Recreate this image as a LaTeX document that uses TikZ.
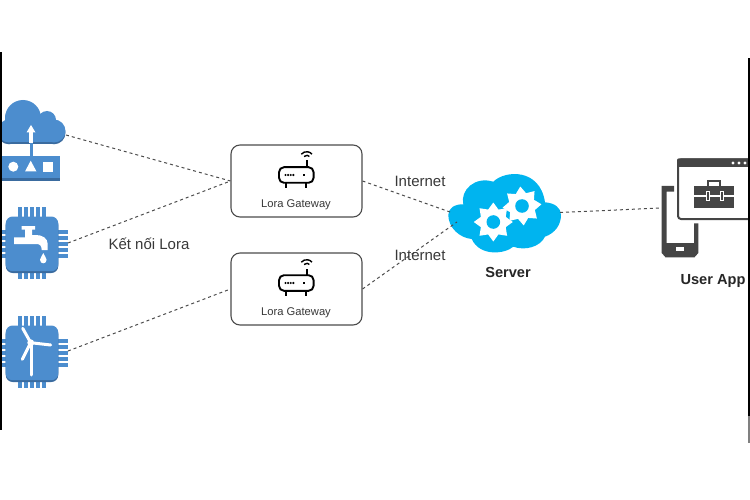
\documentclass[tikz,border=0pt]{standalone}
\usepackage{fontspec}
\setmainfont{Liberation Sans}
\usetikzlibrary{shapes.geometric}
\definecolor{iconblue}{HTML}{4C8DCE}
\definecolor{icondark}{HTML}{3A6B9F}
\definecolor{cloudblue}{HTML}{00B4EF}
\definecolor{icongrey}{HTML}{454545}
\definecolor{labelgrey}{HTML}{383838}
\tikzset{
    link/.style={draw=black!70, line width=1pt, dash pattern=on 3pt off 3pt},
    gateway/.style={draw=black!70, line width=1.1pt, rounded corners=9pt, fill=white, minimum width=131pt, minimum height=72pt},
    gwlabel/.style={text=labelgrey, font=\fontsize{11.2}{13}\selectfont},
    netlabel/.style={text=labelgrey, font=\fontsize{15}{18}\selectfont},
    boldlabel/.style={text=black!85, font=\bfseries\fontsize{14.6}{18}\selectfont},
    gear/.style={star, star points=8, star point ratio=1.45, fill=white, minimum size=39pt, inner sep=0pt},
    chip/.pic={
        \foreach \i in {-12,-6,0,6,12} {
            \fill[iconblue] (\i-1.8,-37) rectangle (\i+1.8,35);
            \fill[iconblue] (-32,\i-1.8) rectangle (36,\i+1.8);
        }
        \fill[icondark, rounded corners=7pt] (-26.3,-26) rectangle (26.3,29);
        \fill[iconblue, rounded corners=7pt] (-26.3,-27.5) rectangle (26.3,27.2);
    },
    tap/.pic={
        \fill[white] (-18,-6.7) -- (-18,0) -- (4.7,0) .. controls (8,0) and (9.7,2) .. (9.7,6) -- (15.7,6) -- (15.7,0) .. controls (15.7,-6) and (10,-9) .. (4,-9) -- (0,-9) -- (0,-14.5) -- (3,-14.5) -- (3,-18) -- (-10.3,-18) -- (-10.3,-14.5) -- (-7,-14.5) -- (-7,-6.7) -- cycle;
        \fill[white] (11.3,9) .. controls (10.5,12) and (8,13.5) .. (8,15.8) .. controls (8,20.5) and (14.6,20.5) .. (14.6,15.8) .. controls (14.6,13.5) and (12.1,12) .. (11.3,9) -- cycle;
    },
    turbine/.pic={
        \draw[white, line width=3pt, line cap=round] (-1.3,-10.3) -- (-9.3,-24.7);
        \draw[white, line width=3pt, line cap=round] (-1.3,-10.3) -- (18.7,-8);
        \draw[white, line width=3pt, line cap=round] (-1.3,-10.3) -- (-9.7,6.3);
        \draw[white, line width=3pt, line cap=round] (-0.3,-8) -- (-0.3,22);
        \fill[white] (-1.3,-10.3) circle (3.4);
    },
    router/.pic={
        \draw[black, line width=1.9pt, rounded corners=5pt, fill=white] (-17.3,-7.8) rectangle (17.3,7.8);
        \draw[black, line width=1.9pt] (-10.7,7.8) -- (-10.7,12.7) (9.3,7.8) -- (9.3,12.7) (10.4,-7.8) -- (10.4,-14.5);
        \draw[black, line width=1.4pt] (7.7,-18.5) arc (220:320:3.5);
        \draw[black, line width=1.4pt] (5,-20.8) arc (220:320:7);
        \foreach \i in {-10.8,-8.2,-5.6,-3} \fill[black] (\i,0) circle (1.2);
        \fill[black] (7,-1.4) rectangle (9,1.4);
    },
}
\begin{document}
\begin{tikzpicture}[x=1pt, y=-1pt]
    \useasboundingbox (0,0) rectangle (750,500);
    % ends of the links
    \coordinate (cloudDevice) at (66,135);
    \coordinate (tapChip) at (68,243);
    \coordinate (windChip) at (68,351);
    \coordinate (serverTop) at (450,212);
    \coordinate (serverBottom) at (457,222);
    \coordinate (serverRight) at (560,212.5);
    \coordinate (userApp) at (661,208);

    % device with cloud
    \foreach \shiftY/\col in {1.8/icondark, 0/iconblue} {
        \fill[\col] (23,118+\shiftY) circle (18);
        \fill[\col] (47,120+\shiftY) circle (9);
        \fill[\col] (54,131+\shiftY) circle (11.5);
        \fill[\col] (9,131+\shiftY) circle (11.5);
        \fill[\col] (9,120+\shiftY) rectangle (54,142.5+\shiftY);
    }
    \fill[iconblue] (29.5,143) rectangle (32.5,156);
    \fill[white] (29.3,131) rectangle (32.7,143);
    \fill[white] (31,125) -- (35.5,132.5) -- (26.5,132.5) -- cycle;
    \fill[icondark] (1.7,156) rectangle (60,181);
    \fill[iconblue] (1.7,155.7) rectangle (60,178.5);
    \fill[white] (13.3,166.7) circle (5);
    \fill[white] (30.7,160.7) -- (36.5,171.5) -- (25,171.5) -- cycle;
    \fill[white] (43.3,161.7) rectangle (53.3,171.7);

    % chips
    \pic at (32,244) {chip};
    \pic at (32,244) {tap};
    \pic at (32,353) {chip};
    \pic at (32,353) {turbine};

    % gateways
    \node[gateway] (gatewayTop) at (296.5,181) {};
    \node[gateway] (gatewayBottom) at (296.5,289) {};
    \pic at (296.3,175) {router};
    \pic at (296.3,283) {router};
    \node[gwlabel] (gatewayTopLabel) at (296,205) {Lora Gateway};
    \node[gwlabel] (gatewayBottomLabel) at (296,312.5) {Lora Gateway};

    % server
    \fill[cloudblue] (448.3,215) .. controls (448.3,208) and (455,204) .. (463.3,204.3)
        .. controls (460,190) and (475,176) .. (493.3,181.7)
        .. controls (505,170) and (540,168) .. (545,202.3)
        .. controls (555,203) and (561,208) .. (561,215)
        .. controls (561,225) and (555,233) .. (545,236.7)
        .. controls (540,247) and (525,251) .. (513.3,246.7)
        .. controls (505,254) and (480,257) .. (471.7,239)
        .. controls (460,238) and (448.3,228) .. (448.3,215) -- cycle;
    \node[gear] (gearLeft) at (493.3,222) {};
    \node[gear, rotate=5] (gearRight) at (522,206) {};
    \fill[cloudblue] (gearLeft.center) circle (6.8);
    \fill[cloudblue] (gearRight.center) circle (6.8);

    % user app
    \fill[icongrey] (661.7,186) -- (674,186) -- (674,191.7) -- (666.7,191.7) -- (666.7,243) -- (694,243) -- (694,223.3) -- (698.3,223.3) -- (698.3,253) -- (694.5,257.3) -- (665.5,257.3) -- (661.7,253) -- cycle;
    \fill[white] (676,246.7) rectangle (684,251);
    \draw[icongrey, line width=2pt, rounded corners=3pt, fill=white] (678,159.5) rectangle (756,219);
    \fill[icongrey, rounded corners=2pt] (677,158.3) rectangle (756,167) ;
    \foreach \i in {733,739,745} \fill[white] (\i,163) circle (1.6);
    \draw[icongrey, line width=1.6pt] (708,186) -- (708,181) -- (720,181) -- (720,186);
    \fill[icongrey] (694.3,186) rectangle (734.3,208.3);
    \fill[white] (694.3,195.2) rectangle (734.3,197.2);
    \draw[white, line width=1pt, fill=icongrey] (706,191.5) rectangle (709.5,200);
    \draw[white, line width=1pt, fill=icongrey] (720,191.5) rectangle (723.5,200);

    % links
    \draw[link] (cloudDevice) -- (gatewayTop.west);
    \draw[link] (tapChip) -- (gatewayTop.west);
    \draw[link] (windChip) -- (gatewayBottom.west);
    \draw[link] (gatewayTop.east) -- (serverTop);
    \draw[link] (gatewayBottom.east) -- (serverBottom);
    \draw[link] (serverRight) -- (userApp);

    % labels
    \node[netlabel] (loraLabel) at (149,244) {Kết nối Lora};
    \node[netlabel] (internetTop) at (420,181.5) {Internet};
    \node[netlabel] (internetBottom) at (420,255.5) {Internet};
    \node[boldlabel] (serverLabel) at (508,272) {Server};
    \node[boldlabel] (userLabel) at (713,281) {User App};

    % black edges
    \fill[black] (0,52) rectangle (2,430);
    \fill[black] (748,58) rectangle (750,416);
    \fill[black!50] (747.5,416) rectangle (750,443);
\end{tikzpicture}
\end{document}
